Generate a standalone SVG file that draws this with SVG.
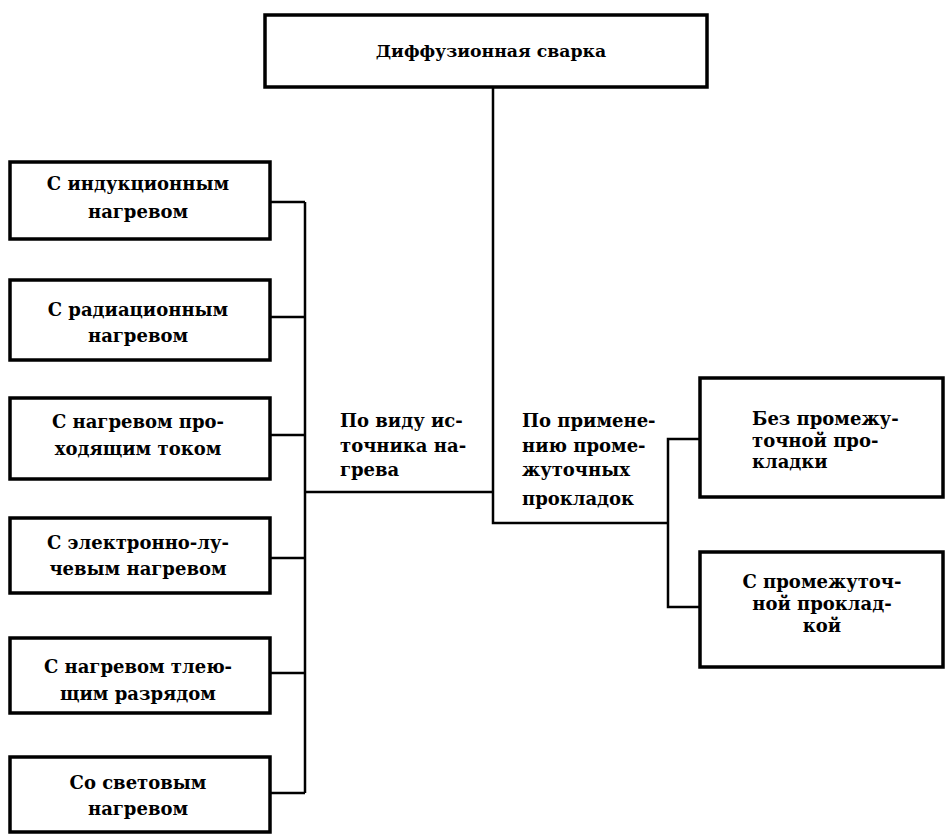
<svg xmlns="http://www.w3.org/2000/svg" width="945" height="836" viewBox="0 0 945 836">
<style>
.box{fill:#fff;stroke:#000;stroke-width:3.5}
.t{font-family:"DejaVu Serif","Liberation Serif",serif;font-size:18px;font-weight:bold;fill:#000}
.c{text-anchor:middle}
.l{font-family:"DejaVu Serif","Liberation Serif",serif;font-size:18px;font-weight:bold;fill:#000}
.con{fill:none;stroke:#000;stroke-width:2.5}
</style>
<rect width="945" height="836" fill="#fff"/>
<g id="connectors">
<path class="con" d="M493,87 V523 H668"/>
<path class="con" d="M305,492 H493"/>
<path class="con" d="M305,202 V793"/>
<path class="con" d="M270,202 H305 M270,317 H305 M270,435 H305 M270,558 H305 M270,673 H305 M270,793 H305"/>
<path class="con" d="M700,439 H668 V607 H700"/>
</g>
<g id="root"><rect class="box" x="265" y="15" width="442" height="72"/><text class="t c" x="491" y="57" style="font-size:17.3px">Диффузионная сварка</text></g>
<g id="n1"><rect class="box" x="10" y="162" width="260" height="77"/><text class="t c" x="138" y="190">С индукционным</text><text class="t c" x="138" y="218">нагревом</text></g>
<g id="n2"><rect class="box" x="10" y="280" width="260" height="80"/><text class="t c" x="138" y="316">С радиационным</text><text class="t c" x="138" y="342">нагревом</text></g>
<g id="n3"><rect class="box" x="10" y="398" width="260" height="81"/><text class="t c" x="138" y="428">С нагревом про-</text><text class="t c" x="138" y="455">ходящим током</text></g>
<g id="n4"><rect class="box" x="10" y="518" width="260" height="75"/><text class="t c" x="138" y="549">С электронно-лу-</text><text class="t c" x="138" y="575">чевым нагревом</text></g>
<g id="n5"><rect class="box" x="10" y="638" width="260" height="75"/><text class="t c" x="138" y="673">С нагревом тлею-</text><text class="t c" x="138" y="700">щим разрядом</text></g>
<g id="n6"><rect class="box" x="10" y="757" width="260" height="75"/><text class="t c" x="138" y="789">Со световым</text><text class="t c" x="138" y="815">нагревом</text></g>
<g id="lab1"><text class="l" x="340" y="427">По виду ис-</text><text class="l" x="340" y="452">точника на-</text><text class="l" x="340" y="476">грева</text></g>
<g id="lab2"><text class="l" x="522" y="427">По примене-</text><text class="l" x="522" y="452">нию проме-</text><text class="l" x="522" y="476">жуточных</text><text class="l" x="522" y="505">прокладок</text></g>
<g id="r1"><rect class="box" x="700" y="378" width="243" height="119"/><text class="t" x="752" y="425">Без промежу-</text><text class="t" x="752" y="447">точной про-</text><text class="t" x="752" y="468">кладки</text></g>
<g id="r2"><rect class="box" x="700" y="552" width="243" height="115"/><text class="t c" x="822" y="588">С промежуточ-</text><text class="t c" x="822" y="610">ной проклад-</text><text class="t c" x="822" y="632">кой</text></g>
</svg>
